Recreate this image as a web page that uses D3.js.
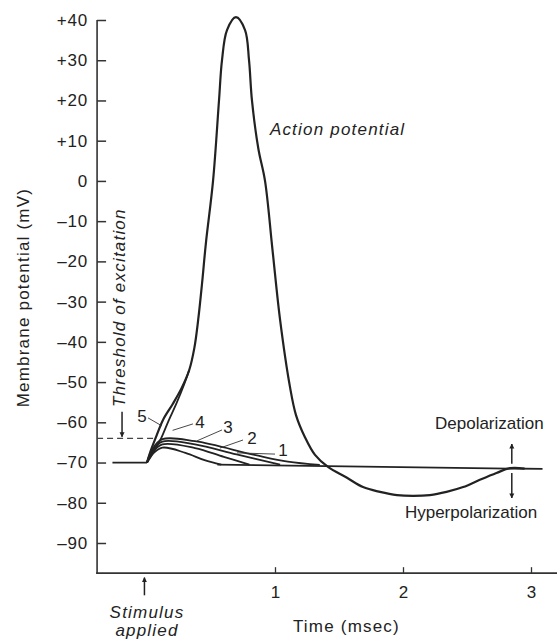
<!DOCTYPE html>
<html>
<head>
<meta charset="utf-8">
<script src="https://cdn.jsdelivr.net/npm/d3@7"></script>
<style>
  body { margin: 0; background: #fff; }
  svg text { font-family: "Liberation Sans", Arial, sans-serif; fill: #222; }
</style>
</head>
<body>
<svg id="chart" width="557" height="642"></svg>
<script>
// ticks
const yTicks = [40, 30, 20, 10, 0, -10, -20, -30, -40, -50, -60, -70, -80, -90];
const xTicks = [1, 2, 3];

// action potential, [time msec, mV]
const actionPotential = [
    [0, -70], [0.03, -67], [0.07, -63.7], [0.125, -59.4], [0.2, -55.5], [0.27, -51.5],
    [0.33, -47], [0.37, -41.5], [0.40, -34.5], [0.43, -25.5], [0.46, -15.5], [0.516, 0],
    [0.5625, 20], [0.586, 30], [0.625, 37.5], [0.695, 40.7], [0.766, 37.5],
    [0.797, 30], [0.82, 20], [0.87, 8], [0.922, 0], [0.98, -17], [1.04, -34.6],
    [1.117, -51.2], [1.164, -58.2], [1.234, -63.7], [1.3125, -68.1], [1.414, -71.1],
    [1.5625, -73.8], [1.6875, -76.1], [1.82, -77.3], [1.953, -78.1], [2.078, -78.3],
    [2.21, -78.1], [2.34, -77.3], [2.47, -76.1], [2.6, -74.3], [2.73, -72.6],
    [2.836, -71.4], [2.95, -71.5]
];

// curve 4: second edge of the lens, joins the action potential
const curve4 = [
    [0, -70], [0.05, -67.5], [0.11, -64], [0.17, -59.5], [0.23, -55.3], [0.29, -50.6], [0.33, -47]
];

// local (subthreshold) responses
const local1 = [[0, -70], [0.04, -66.8], [0.12, -64.2], [0.375, -64.7], [0.84, -68.1], [1.1, -69.8], [1.35, -70.6]];
const local2 = [[0, -70], [0.04, -67.2], [0.12, -64.8], [0.375, -65.5], [0.7, -68], [1.04, -70.5]];
const local3 = [[0, -70], [0.04, -67.6], [0.12, -65.5], [0.375, -66.4], [0.6, -68.6], [0.8, -70.5]];
const local4 = [[0, -70], [0.04, -68], [0.12, -66.3], [0.3, -67.6], [0.45, -69.4], [0.58, -70.5]];

const restingBefore = [[-0.27, -70], [0, -70]];
const restingAfter = [[0.55, -70.5], [3.09, -71.6]];
const threshold = [[-0.39, -64], [0.05, -64]];

// curve numbers: label position and leader line
const curveLabels = [
    { text: "5", at: [-0.04, -58.4], from: [0.008, -58.9], to: [0.117, -60.9] },
    { text: "4", at: [0.414, -59.9], from: [0.359, -60.4], to: [0.2, -62] },
    { text: "3", at: [0.633, -61.1], from: [0.586, -61.9], to: [0.391, -64.6] },
    { text: "2", at: [0.82, -63.9], from: [0.75, -64.4], to: [0.57, -66.4] },
    { text: "1", at: [1.063, -66.8], from: [1.0, -67.9], to: [0.703, -67.6] }
];

const svg = d3.select("#chart");

const x = d3.scaleLinear().domain([0, 3]).range([147, 531]);
const y = d3.scaleLinear().domain([-90, 40]).range([543, 20]);

const xStart = -0.39, xEnd = 3.25, yBottom = -97.5;

const line = d3.line()
    .x(d => x(d[0]))
    .y(d => y(d[1]))
    .curve(d3.curveCatmullRom.alpha(0.5));

const straight = d3.line().x(d => x(d[0])).y(d => y(d[1]));

svg.append("defs").append("marker")
    .attr("id", "head")
    .attr("viewBox", "0 0 10 10")
    .attr("refX", 9).attr("refY", 5)
    .attr("markerWidth", 5).attr("markerHeight", 6)
    .attr("markerUnits", "userSpaceOnUse")
    .attr("orient", "auto")
    .append("path")
    .attr("d", "M0,0 L10,5 L0,10 Z")
    .attr("fill", "#222");

// axes
svg.append("line")
    .attr("x1", x(xStart)).attr("x2", x(xStart))
    .attr("y1", y(40)).attr("y2", y(yBottom))
    .attr("stroke", "#333").attr("stroke-width", 1.6);

svg.append("line")
    .attr("x1", x(xStart) - 1).attr("x2", x(xEnd))
    .attr("y1", y(yBottom)).attr("y2", y(yBottom))
    .attr("stroke", "#333").attr("stroke-width", 1.6);

const yAxis = svg.append("g")
    .attr("transform", `translate(${x(xStart)},0)`)
    .call(d3.axisLeft(y)
        .tickValues(yTicks)
        .tickSizeInner(-9)
        .tickSizeOuter(0)
        .tickPadding(9)
        .tickFormat(d => d > 0 ? "+" + d : d < 0 ? "\u2013" + (-d) : "0"));
yAxis.select(".domain").remove();
yAxis.selectAll("line").attr("stroke", "#333").attr("stroke-width", 1.5);
yAxis.selectAll("text")
    .style("font-size", "17px")
    .style("letter-spacing", "0.8px")
    .attr("fill", "#222");

const xAxis = svg.append("g")
    .attr("transform", `translate(0,${y(yBottom)})`)
    .call(d3.axisBottom(x)
        .tickValues(xTicks)
        .tickSizeInner(-6)
        .tickSizeOuter(0)
        .tickPadding(13)
        .tickFormat(d3.format("d")));
xAxis.select(".domain").remove();
xAxis.selectAll("line").attr("stroke", "#333").attr("stroke-width", 1.3);
xAxis.selectAll("text").style("font-size", "17px").attr("fill", "#222");

// threshold, resting lines
svg.append("path")
    .attr("d", straight(threshold))
    .attr("fill", "none").attr("stroke", "#444").attr("stroke-width", 1.2)
    .attr("stroke-dasharray", "6,4");

[restingBefore, restingAfter].forEach(seg => {
    svg.append("path")
        .attr("d", straight(seg))
        .attr("fill", "none").attr("stroke", "#222").attr("stroke-width", 1.8);
});

// local responses
[local4, local3, local2, local1].forEach(c => {
    svg.append("path")
        .attr("d", line(c))
        .attr("fill", "none").attr("stroke", "#222").attr("stroke-width", 1.8);
});

svg.append("path")
    .attr("d", line(curve4))
    .attr("fill", "none").attr("stroke", "#222").attr("stroke-width", 1.8);

svg.append("path")
    .attr("d", line(actionPotential))
    .attr("fill", "none").attr("stroke", "#222").attr("stroke-width", 2.2);

// curve numbers
curveLabels.forEach(l => {
    svg.append("line")
        .attr("x1", x(l.from[0])).attr("y1", y(l.from[1]))
        .attr("x2", x(l.to[0])).attr("y2", y(l.to[1]))
        .attr("stroke", "#333").attr("stroke-width", 0.9);
    svg.append("text")
        .attr("x", x(l.at[0])).attr("y", y(l.at[1]))
        .attr("text-anchor", "middle")
        .attr("dy", "0.35em")
        .style("font-size", "17px")
        .text(l.text);
});

// arrows
function arrow(a, b) {
    svg.append("line")
        .attr("x1", x(a[0])).attr("y1", y(a[1]))
        .attr("x2", x(b[0])).attr("y2", y(b[1]))
        .attr("stroke", "#222").attr("stroke-width", 1.5)
        .attr("marker-end", "url(#head)");
}
arrow([-0.195, -57.4], [-0.195, -63.6]);
arrow([2.85, -70.3], [2.85, -65.4]);
arrow([2.85, -72.6], [2.85, -78.8]);
arrow([-0.02, -103], [-0.02, -98.6]);

// texts
svg.append("text")
    .attr("transform", `translate(29,${y(-29)}) rotate(-90)`)
    .attr("text-anchor", "middle")
    .style("font-size", "17px")
    .style("letter-spacing", "1.2px")
    .text("Membrane potential (mV)");

svg.append("text")
    .attr("transform", `translate(${x(-0.17)},${y(-31.5)}) rotate(-90)`)
    .attr("text-anchor", "middle")
    .style("font-size", "17px")
    .style("font-style", "italic")
    .style("letter-spacing", "1.2px")
    .text("Threshold of excitation");

svg.append("text")
    .attr("x", x(0.96)).attr("y", y(11.5))
    .style("font-size", "17px")
    .style("font-style", "italic")
    .style("letter-spacing", "1.2px")
    .text("Action potential");

svg.append("text")
    .attr("x", x(2.25)).attr("y", y(-61.7))
    .style("font-size", "17px")
    .text("Depolarization");

svg.append("text")
    .attr("x", x(2.015)).attr("y", y(-83.8))
    .style("font-size", "17px")
    .text("Hyperpolarization");

svg.append("text")
    .attr("x", x(1.14)).attr("y", 632)
    .style("font-size", "17px")
    .style("letter-spacing", "1.2px")
    .text("Time (msec)");

const stim = svg.append("text")
    .attr("x", x(0)).attr("y", 618)
    .attr("text-anchor", "middle")
    .style("font-size", "17px")
    .style("font-style", "italic")
    .style("letter-spacing", "1.2px");
stim.append("tspan").attr("x", x(0)).text("Stimulus");
stim.append("tspan").attr("x", x(0)).attr("dy", 18).text("applied");
</script>
</body>
</html>
